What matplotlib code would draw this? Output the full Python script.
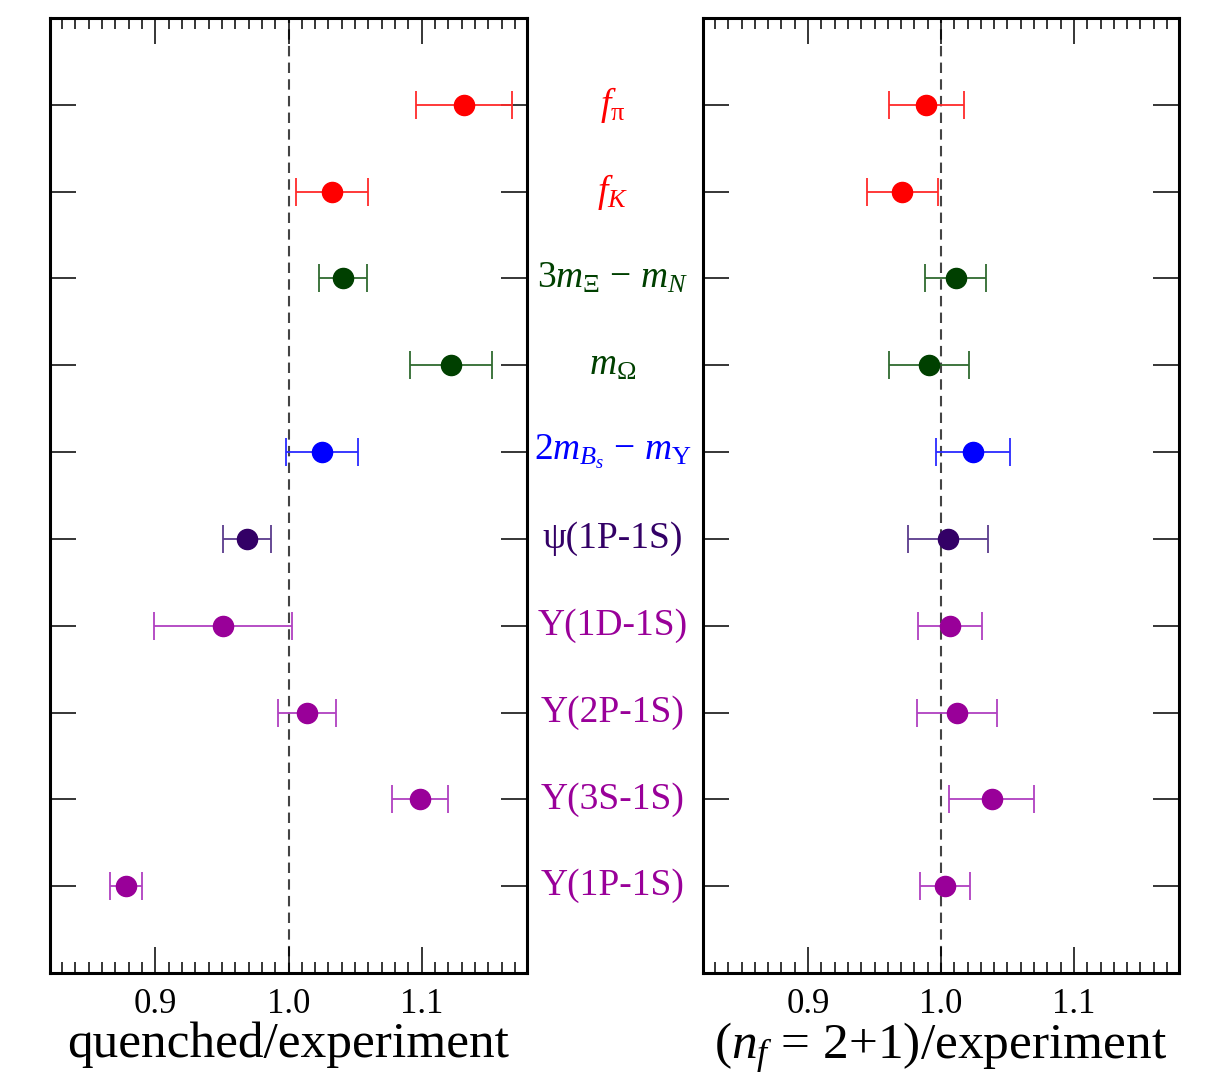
import matplotlib.pyplot as plt
import numpy as np
from matplotlib.ticker import MultipleLocator

plt.rcParams['font.family'] = ['Liberation Serif', 'DejaVu Serif']
plt.rcParams['mathtext.fontset'] = 'custom'
plt.rcParams['mathtext.rm'] = 'Liberation Serif'
plt.rcParams['mathtext.it'] = 'Liberation Serif:italic'
plt.rcParams['mathtext.bf'] = 'Liberation Serif:bold'

# observables, top to bottom
labels = [r'$f_{\mathrm{\pi}}$', r'$f_K$', r'$3m_{\mathrm{\Xi}}$ $-$ $m_N$', r'$m_{\mathrm{\Omega}}$',
          r'$2m_{B_s}$ $-$ $m_{\mathrm{\Upsilon}}$', 'ψ(1P-1S)', 'Υ(1D-1S)', 'Υ(2P-1S)',
          'Υ(3S-1S)', 'Υ(1P-1S)']
colors = ['#ff0000', '#ff0000', '#004000', '#004000', '#0000ff', '#330066',
          '#990099', '#990099', '#990099', '#990099']
ecolors = ['#ff2a2a', '#ff2a2a', '#2f6a2f', '#2f6a2f', '#2a2aff', '#5a3c8c',
           '#b040c0', '#b040c0', '#b040c0', '#b040c0']

# quenched / experiment
quenched = [1.132, 1.033, 1.041, 1.122, 1.025, 0.969, 0.951, 1.014, 1.099, 0.878]
quenched_err = [0.036, 0.027, 0.018, 0.031, 0.027, 0.018, 0.052, 0.022, 0.021, 0.012]

# (nf = 2+1) / experiment
unquenched = [0.989, 0.971, 1.011, 0.991, 1.024, 1.005, 1.007, 1.012, 1.038, 1.003]
unquenched_err = [0.028, 0.027, 0.023, 0.030, 0.028, 0.030, 0.024, 0.030, 0.032, 0.019]

ypos = np.arange(1, len(labels) + 1)

fig = plt.figure(figsize=(12.3, 10.84), dpi=100)
ax1 = fig.add_axes([50 / 1230, 1 - 973 / 1084, 477 / 1230, 955 / 1084])
ax2 = fig.add_axes([703 / 1230, 1 - 973 / 1084, 476 / 1230, 955 / 1084])


def draw_panel(ax, vals, errs, xlabel):
    ax.axvline(1.0, color='#444444', ls=(0, (5, 3)), lw=1.5, zorder=1)
    for y, v, e, c, ec in zip(ypos, vals, errs, colors, ecolors):
        ax.errorbar(v, y, xerr=e, fmt='o', color=c, ecolor=ec, ms=14.5,
                    elinewidth=1.3, capsize=10, capthick=1.3, zorder=3)
    ax.set_xlim(0.821, 1.179)
    ax.set_ylim(11, 0)
    ax.xaxis.set_minor_locator(MultipleLocator(0.01))
    ax.set_xticks([0.9, 1.0, 1.1])
    ax.set_xticklabels(['0.9', '1.0', '1.1'])
    ax.set_yticks(ypos)
    ax.set_yticklabels([])
    ax.tick_params(axis='both', which='major', direction='in', length=19,
                   width=1.1, top=True, right=True, labelsize=25, pad=11)
    ax.tick_params(axis='x', which='minor', direction='in', length=8,
                   width=1.1, top=True, bottom=True)
    for s in ax.spines.values():
        s.set_linewidth(2.2)
    ax.set_xlabel(xlabel, fontsize=37, labelpad=0)


draw_panel(ax1, quenched, quenched_err, 'quenched/experiment')
draw_panel(ax2, unquenched, unquenched_err, r'($n_f$ = 2+1)/experiment')

# row labels in the gap between the panels
for y, lab, c in zip(ypos, labels, colors):
    ax1.annotate(lab, xy=(1.0, y), xycoords=('axes fraction', 'data'),
                 xytext=(613 - 527, 0), textcoords='offset pixels',
                 ha='center', va='center', fontsize=27, color=c,
                 annotation_clip=False)

fig.savefig('out.png', dpi=100)
